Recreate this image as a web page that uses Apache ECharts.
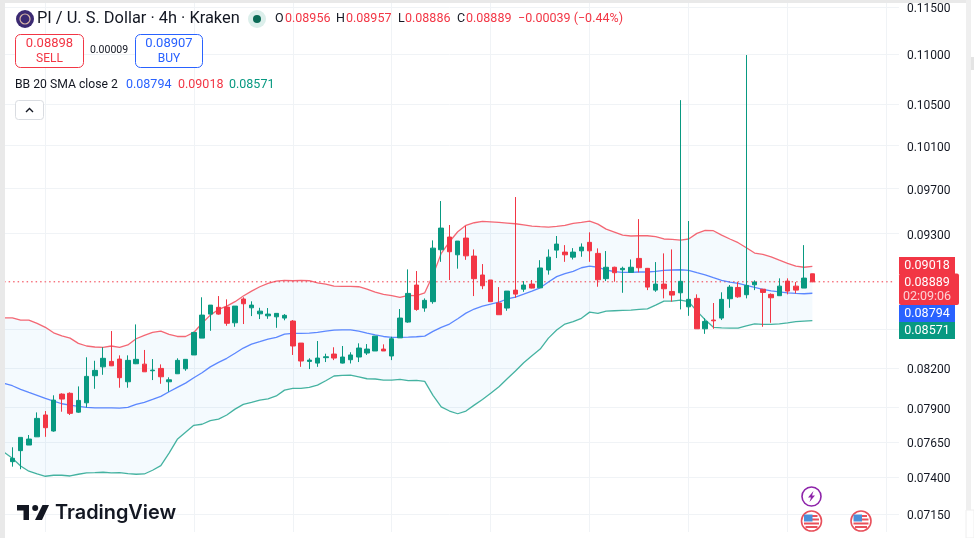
<!DOCTYPE html>
<html><head><meta charset="utf-8">
<style>html,body{margin:0;padding:0;background:#fff}#c{width:974px;height:538px}</style>
<script src="https://cdn.jsdelivr.net/npm/echarts@6/dist/echarts.min.js"></script>
</head><body><div id="c"></div>
<script>
// open, close, low, high for each 4h candle
const candles = [
[.07510,.07534,.07475,.07612],[.07588,.07683,.07457,.07683],[.07628,.07671,.07628,.07700],[.07687,.07821,.07687,.07865],
[.07846,.07753,.07687,.07875],[.07729,.07956,.07724,.07992],[.08001,.07964,.07870,.08007],[.08007,.07858,.07846,.08014],
[.07867,.07954,.07862,.08059],[.07936,.08135,.07902,.08282],[.08140,.08181,.08041,.08255],[.08208,.08274,.08147,.08360],
[.08250,.08216,.08214,.08488],[.08268,.08125,.08049,.08297],[.08094,.08258,.08049,.08297],[.08232,.08266,.08229,.08541],
[.08229,.08170,.08170,.08339],[.08178,.08183,.08107,.08268],[.08196,.08132,.08079,.08227],[.08094,.08109,.08019,.08128],
[.08155,.08258,.08153,.08274],[.08193,.08266,.08178,.08268],[.08300,.08477,.08300,.08482],[.08432,.08616,.08432,.08761],
[.08624,.08697,.08490,.08697],[.08679,.08624,.08619,.08771],[.08681,.08550,.08530,.08744],[.08554,.08689,.08522,.08689],
[.08747,.08708,.08544,.08761],[.08675,.08697,.08608,.08728],[.08626,.08648,.08584,.08675],[.08610,.08624,.08586,.08673],
[.08602,.08630,.08514,.08630],[.08592,.08614,.08574,.08624],[.08568,.08370,.08300,.08576],[.08393,.08253,.08208,.08393],
[.08250,.08260,.08191,.08274],[.08237,.08276,.08208,.08409],[.08279,.08286,.08245,.08310],[.08307,.08276,.08260,.08360],
[.08237,.08284,.08234,.08370],[.08263,.08300,.08234,.08321],[.08284,.08354,.08245,.08391],[.08315,.08346,.08300,.08385],
[.08331,.08448,.08331,.08448],[.08346,.08331,.08331,.08383],[.08292,.08427,.08260,.08443],[.08434,.08592,.08434,.08665],
[.08560,.08793,.08554,.08993],[.08862,.08662,.08651,.08979],[.08673,.08736,.08643,.08752],[.08725,.09174,.08708,.09241],
[.09160,.09348,.09057,.09588],[.09270,.09143,.08904,.09375],[.09117,.09235,.08999,.09235],[.09261,.09108,.09074,.09366],
[.09106,.08915,.08771,.09163],[.08946,.08856,.08828,.09038],[.08904,.08725,.08725,.08904],[.08714,.08619,.08619,.08845],
[.08673,.08812,.08651,.08812],[.08820,.08787,.08757,.09624],[.08828,.08862,.08806,.08895],[.08870,.08837,.08834,.08904],
[.08839,.09005,.08839,.09071],[.08988,.09097,.08949,.09163],[.09157,.09209,.09089,.09279],[.09140,.09117,.09057,.09200],
[.09097,.09140,.09077,.09174],[.09151,.09183,.09100,.09215],[.09224,.09151,.09057,.09311],[.09129,.08906,.08848,.09172],
[.08915,.09011,.08895,.09149],[.09011,.08965,.08890,.09016],[.08990,.09002,.08798,.09016],[.08968,.09011,.08968,.09077],
[.09086,.09007,.08968,.09427],[.09002,.08845,.08820,.09005],[.08820,.08870,.08806,.09055],[.08870,.08831,.08752,.09129],
[.08809,.08779,.08725,.09163],[.08798,.08893,.08662,.10539],[.08683,.08744,.08610,.09410],[.08752,.08506,.08506,.08785],
[.08506,.08565,.08466,.08590],[.08576,.08570,.08506,.08714],[.08592,.08744,.08576,.08802],[.08749,.08845,.08675,.08862],
[.08842,.08765,.08757,.08887],[.08782,.08859,.08752,.10994],[.08864,.08887,.08820,.08901],[.08828,.08801,.08522,.08828],
[.08785,.08757,.08554,.08793],[.08774,.08853,.08774,.08918],[.08895,.08812,.08785,.08918],[.08853,.08820,.08793,.08887],
[.08837,.08920,.08837,.09200],[.08956,.08889,.08886,.08957]];
// Bollinger bands: first value belongs to the partly cut-off bar before the first candle
const upperBand = [.08594,.08594,.08576,.08576,.08550,.08518,.08474,.08450,.08432,.08391,.08370,.08362,.08360,.08370,.08360,.08378,.08427,.08454,.08477,.08488,.08461,.08445,.08445,.08477,.08550,.08616,.08662,.08689,.08725,.08771,.08812,.08848,.08876,.08895,.08901,.08898,.08901,.08898,.08881,.08870,.08853,.08851,.08851,.08848,.08828,.08804,.08785,.08774,.08761,.08777,.08774,.08798,.08946,.09129,.09229,.09316,.09372,.09395,.09407,.09403,.09398,.09392,.09386,.09377,.09366,.09360,.09357,.09363,.09372,.09390,.09398,.09410,.09383,.09339,.09313,.09287,.09279,.09281,.09281,.09273,.09253,.09250,.09244,.09253,.09302,.09328,.09325,.09287,.09253,.09221,.09177,.09132,.09120,.09100,.09071,.09044,.09021,.09011,.09018];
const middleBand = [.08082,.08064,.08037,.08014,.07992,.07969,.07949,.07929,.07919,.07909,.07902,.07899,.07899,.07899,.07897,.07902,.07924,.07939,.07961,.07984,.08019,.08052,.08084,.08125,.08163,.08208,.08242,.08274,.08313,.08354,.08385,.08404,.08424,.08438,.08464,.08470,.08470,.08472,.08477,.08488,.08496,.08498,.08498,.08488,.08472,.08458,.08445,.08438,.08438,.08440,.08443,.08448,.08485,.08518,.08544,.08586,.08632,.08665,.08689,.08705,.08722,.08747,.08763,.08787,.08812,.08839,.08887,.08932,.08957,.08977,.09007,.09021,.09011,.08988,.08974,.08968,.08968,.08971,.08971,.08977,.08985,.08988,.08990,.08985,.08965,.08946,.08923,.08901,.08887,.08876,.08859,.08843,.08826,.08814,.08806,.08798,.08793,.08790,.08794];
const lowerBand = [.07576,.07534,.07480,.07443,.07424,.07408,.07415,.07415,.07410,.07422,.07431,.07433,.07436,.07431,.07433,.07426,.07422,.07424,.07450,.07482,.07571,.07669,.07720,.07770,.07778,.07804,.07816,.07846,.07889,.07924,.07939,.07956,.07966,.07987,.08031,.08044,.08044,.08052,.08069,.08102,.08138,.08143,.08145,.08132,.08117,.08115,.08107,.08107,.08112,.08102,.08105,.08097,.07992,.07906,.07875,.07855,.07875,.07919,.07961,.08007,.08056,.08117,.08176,.08239,.08294,.08346,.08432,.08496,.08544,.08563,.08590,.08640,.08630,.08648,.08651,.08654,.08657,.08662,.08667,.08697,.08730,.08730,.08738,.08725,.08648,.08578,.08518,.08514,.08512,.08512,.08530,.08546,.08541,.08541,.08546,.08554,.08563,.08568,.08571];
const priceTicks = [.115,.11,.105,.101,.097,.093,.085,.082,.079,.0765,.074,.0715];
const lastPrice = .08889;
const timeGridSlots = [5,23,35,47,59,71,83,95,107];

const UP='#089981', DOWN='#f23645', BLUE='#2962ff';
const TOTAL_SLOTS=109;
const categories = Array.from({length:TOTAL_SLOTS},(_,i)=>String(i));
const candleData = [['-','-','-','-'], ...candles, ...Array.from({length:TOTAL_SLOTS-1-candles.length},()=>['-','-','-','-'])];
const FONT='Roboto, sans-serif';
const txt=(x,y,text,fill,size,extra)=>({type:'text',x,y,silent:true,z:100,style:Object.assign({text,fill,fontSize:size,fontFamily:FONT,textVerticalAlign:'middle',textAlign:'left'},extra||{})});
const rect=(x,y,w,h,fill,stroke,r)=>({type:'rect',silent:true,z:99,shape:{x,y,width:w,height:h,r:r||0},style:{fill,stroke:stroke||null,lineWidth:1}});
const circ=(cx,cy,r,fill,stroke,lw)=>({type:'circle',silent:true,z:100,shape:{cx,cy,r},style:{fill,stroke:stroke||null,lineWidth:lw||0}});
const poly=(points,fill)=>({type:'polygon',silent:true,z:101,shape:{points},style:{fill}});

function usFlag(cx,cy){return [
  circ(cx,cy,10,'#fff','#e8505b',1.6),
  rect(cx-7.5,cy+1.5,15,2,'#e8505b'),
  rect(cx-6,cy+5,12,2,'#e8505b'),
  rect(cx,cy-2.5,7.5,2,'#e8505b'),
  rect(cx,cy-6,6,2,'#e8505b'),
  rect(cx-7.5,cy-6.5,8.5,7,'#4a90d9')
].map(e=>{e.z=100;return e;});}

const graphicEls=[
  // window edges
  rect(0,0,5,538,'#e9e9e9'), rect(0,0,966,3,'#e9e9e9'), rect(966,0,5,538,'#efefef'),
  rect(971,57,3,13,'#e4e4e4'), rect(966,510,8,28,'#fff','#eeeeee'),
  // symbol title row
  circ(25,19,9,'#3b2a72'), circ(25,19,5,'#3b2a72','#d9b8a8',1.2),
  txt(37,19,'PI / U. S. Dollar · 4h · Kraken','#131722',16.4),
  circ(257,19,9,'#dcefeb'), circ(257,19,4,'#0b6b56'),
  txt(275,19,'O','#131722',12.5), txt(285,19,'0.08956',DOWN,12.5),
  txt(336,19,'H','#131722',12.5), txt(346,19,'0.08957',DOWN,12.5),
  txt(398,19,'L','#131722',12.5), txt(405,19,'0.08886',DOWN,12.5),
  txt(457,19,'C','#131722',12.5), txt(466,19,'0.08889',DOWN,12.5),
  txt(518,19,'−0.00039 (−0.44%)',DOWN,12.5),
  // sell / buy
  rect(15.5,34.5,68,33,'#fff',DOWN,5), rect(135.5,34.5,67,33,'#fff',BLUE,5),
  txt(49.5,43.5,'0.08898',DOWN,13,{textAlign:'center'}), txt(49.5,58.5,'SELL',DOWN,12,{textAlign:'center'}),
  txt(109,50.5,'0.00009','#131722',10.5,{textAlign:'center'}),
  txt(169,43.5,'0.08907',BLUE,13,{textAlign:'center'}), txt(169,58.5,'BUY',BLUE,12,{textAlign:'center'}),
  // indicator row
  txt(15,85,'BB 20 SMA close 2','#131722',12.2),
  txt(126,85,'0.08794',BLUE,12.5), txt(178,85,'0.09018',DOWN,12.5), txt(229,85,'0.08571',UP,12.5),
  rect(15.5,100.5,28,19,'#fff','#d9dce1',3),
  {type:'polyline',silent:true,z:101,shape:{points:[[26,112],[29.5,108.5],[33,112]]},style:{fill:null,stroke:'#131722',lineWidth:1.4}},
  // price tags
  rect(899,257,56,17,DOWN), rect(899,273.5,60,31.5,DOWN,null,2),
  rect(899,305,56,17,BLUE), rect(899,322,56,17,UP),
  txt(927,265.5,'0.09018','#fff',12.5,{textAlign:'center'}),
  txt(927,282.5,'0.08889','#fff',12.5,{textAlign:'center'}),
  txt(927,296.5,'02:09:06','#fbd1d5',12.5,{textAlign:'center'}),
  txt(927,313.5,'0.08794','#fff',12.5,{textAlign:'center'}),
  txt(927,330.5,'0.08571','#fff',12.5,{textAlign:'center'}),
  // TradingView mark
  poly([[17,505],[29,505],[29,520],[23.5,520],[23.5,510.5],[17,510.5]],'#131722'),
  circ(35.2,508,3,'#131722'),
  poly([[42.5,505],[49,505],[42,520],[35,520]],'#131722'),
  txt(55,513.5,'TradingView','#131722',19.9,{fontWeight:'600',fontFamily:'Inter, sans-serif'}),
  // event markers
  circ(811.5,496.5,9.5,'#fff','#8e24aa',1.6),
  poly([[813.5,491],[808,497.5],[811,497.5],[809.5,502],[815,495.5],[812,495.5]],'#8e24aa'),
  ...usFlag(811.5,521), ...usFlag(861,521)
];

const chart=echarts.init(document.getElementById('c'),null,{renderer:'canvas'});
chart.setOption({
  animation:false,
  backgroundColor:'#fff',
  grid:{left:-1.39,top:0,width:TOTAL_SLOTS*8.26,height:532,containLabel:false},
  xAxis:{type:'category',data:categories,boundaryGap:true,
    axisLine:{show:false},axisTick:{show:false},axisLabel:{show:false},
    splitLine:{show:true,alignWithLabel:true,interval:(i)=>timeGridSlots.includes(i),lineStyle:{color:'#f0f3f6',width:1}}},
  yAxis:{type:'log',logBase:10,position:'right',min:.07031,max:.11576,scale:true,
    axisLine:{show:false},axisTick:{show:false,customValues:priceTicks},
    axisLabel:{show:true,customValues:priceTicks,margin:8,verticalAlign:'top',lineHeight:4,color:'#131722',fontFamily:FONT,fontSize:12,formatter:v=>Number(v).toFixed(5)},
    splitLine:{show:true,lineStyle:{color:'#f0f3f6',width:1}},
    minorSplitLine:{show:false}},
  graphic:{elements:graphicEls},
  series:[
    {type:'custom',name:'band',silent:true,z:1,clip:true,
     data:[[0]],encode:{x:0},
     renderItem:(p,api)=>{
       const pts=[];
       upperBand.forEach((v,i)=>pts.push(api.coord([i,v])));
       for(let i=lowerBand.length-1;i>=0;i--)pts.push(api.coord([i,lowerBand[i]]));
       return {type:'polygon',shape:{points:pts},style:{fill:'rgba(33,150,243,0.05)'}};
     }},
    {type:'line',name:'Last price',data:categories.map(()=>lastPrice),symbol:'none',z:2,silent:true,
     lineStyle:{color:DOWN,type:[1.5,3],width:1}},
    {type:'line',name:'Upper',data:upperBand,symbol:'none',z:2,lineStyle:{color:DOWN,width:1.3,opacity:.75}},
    {type:'line',name:'Middle',data:middleBand,symbol:'none',z:2,lineStyle:{color:BLUE,width:1.3,opacity:.75}},
    {type:'line',name:'Lower',data:lowerBand,symbol:'none',z:2,lineStyle:{color:UP,width:1.3,opacity:.75}},
    {type:'candlestick',name:'PI/USD',data:candleData,barWidth:5,z:3,
     itemStyle:{color:UP,color0:DOWN,borderColor:UP,borderColor0:DOWN,borderWidth:1}}
  ]
});
</script></body></html>
